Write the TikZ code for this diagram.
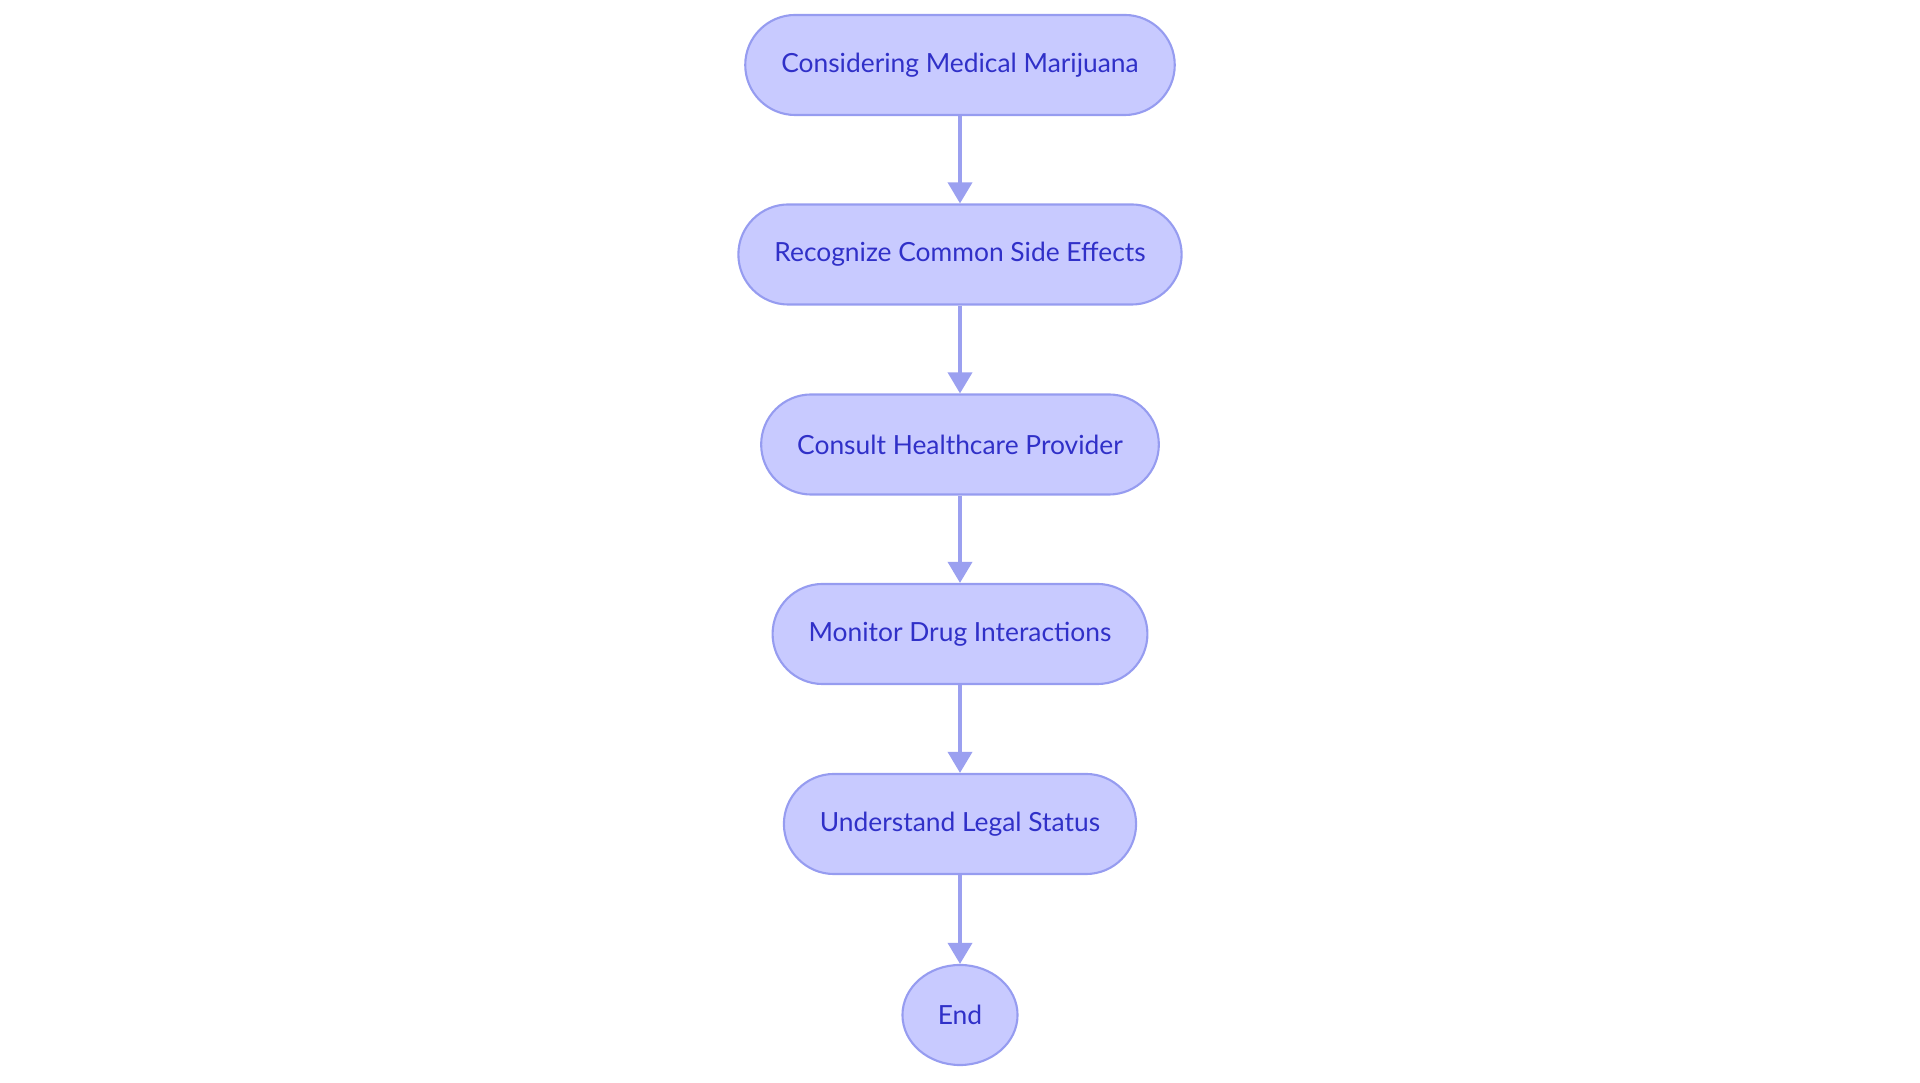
\documentclass[tikz,border=0pt]{standalone}
\usepackage{fontspec}
\setmainfont{Lato}
\usetikzlibrary{arrows.meta,shapes.geometric}
\definecolor{stepfill}{RGB}{200,202,255}
\definecolor{stepline}{RGB}{150,156,240}
\definecolor{steptext}{RGB}{48,48,200}
\definecolor{linkcol}{RGB}{155,160,240}
\begin{document}
\begin{tikzpicture}[x=0.01cm,y=-0.01cm,
    stepbox/.style={draw=stepline,fill=stepfill,text=steptext,rounded corners=0.5cm,
      minimum height=1cm,inner xsep=0.36cm,line width=0.6pt,font=\fontsize{7.5}{9}\selectfont},
    endbox/.style={ellipse,draw=stepline,fill=stepfill,text=steptext,minimum width=1.15cm,
      minimum height=1cm,inner sep=0pt,line width=0.6pt,font=\fontsize{7.5}{9}\selectfont},
    link/.style={draw=linkcol,line width=1.05pt,-{Triangle[length=0.21cm,width=0.24cm]}}]
        \useasboundingbox (0,0) rectangle (1920,1083);
        % Steps
        \node[stepbox] (consider) at (960,65) {Considering Medical Marijuana};
        \node[stepbox] (recognize) at (960,254.5) {Recognize Common Side Effects};
        \node[stepbox] (consult) at (960,444.5) {Consult Healthcare Provider};
        \node[stepbox] (monitor) at (960,634) {Monitor Drug Interactions};
        \node[stepbox] (legal) at (960,824) {Understand Legal Status};
        \node[endbox] (end) at (960,1015) {End};
        % Links
        \draw[link] (consider) -- (recognize);
        \draw[link] (recognize) -- (consult);
        \draw[link] (consult) -- (monitor);
        \draw[link] (monitor) -- (legal);
        \draw[link] (legal) -- (end);
\end{tikzpicture}
\end{document}
